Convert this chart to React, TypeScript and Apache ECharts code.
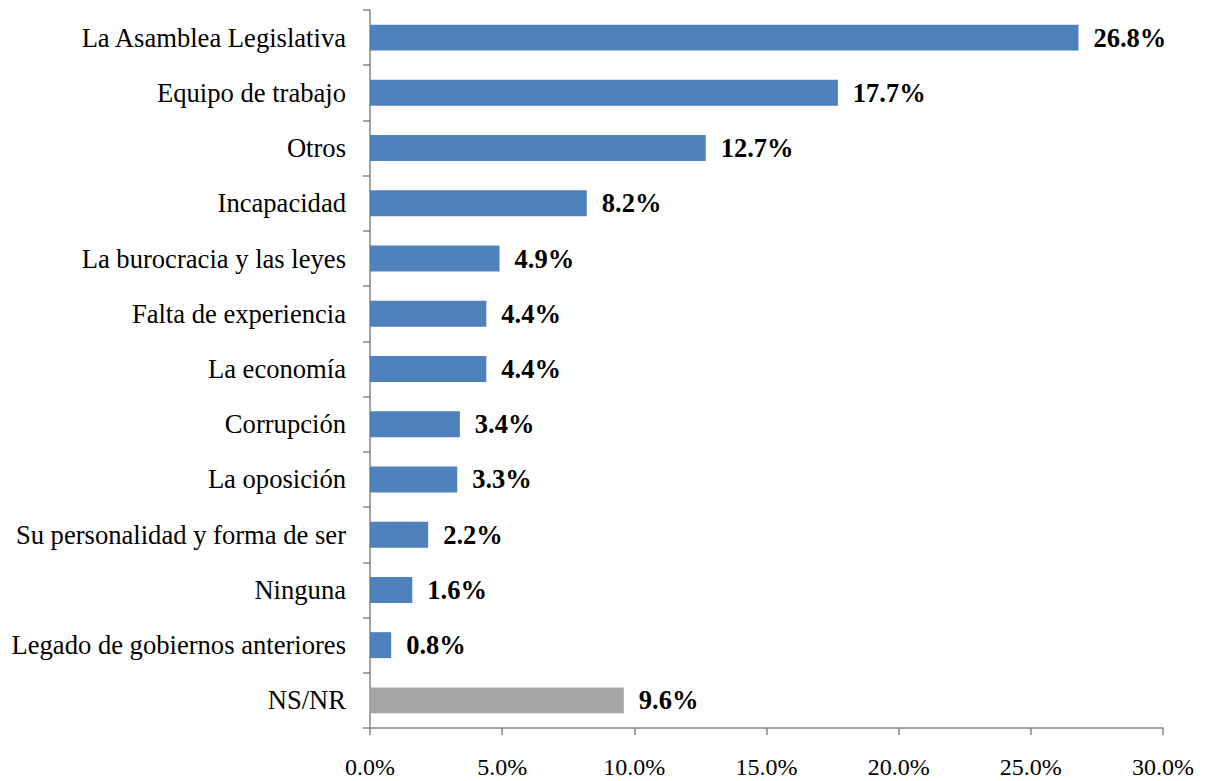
import React, { useEffect, useRef } from "react";
import * as echarts from "echarts";

const categories = [
  "La Asamblea Legislativa",
  "Equipo de trabajo",
  "Otros",
  "Incapacidad",
  "La burocracia y las leyes",
  "Falta de experiencia",
  "La economía",
  "Corrupción",
  "La oposición",
  "Su personalidad y forma de ser",
  "Ninguna",
  "Legado de gobiernos anteriores",
  "NS/NR",
];
const values = [26.8, 17.7, 12.7, 8.2, 4.9, 4.4, 4.4, 3.4, 3.3, 2.2, 1.6, 0.8, 9.6];
const grayCategory = "NS/NR";

export default function App() {
  const ref = useRef<HTMLDivElement>(null);
  useEffect(() => {
    if (!ref.current) return;
    const chart = echarts.init(ref.current, null, { renderer: "svg" });
    const font = "'Liberation Serif', 'Times New Roman', serif";
    chart.setOption({
      animation: false,
      grid: { left: 362, top: 2, right: 32, bottom: 53, containLabel: false },
      xAxis: {
        type: "value",
        min: 0,
        max: 30,
        interval: 5,
        axisLine: { show: true, lineStyle: { color: "#868686", width: 1.5 } },
        axisTick: { show: true, length: 7, lineStyle: { color: "#868686", width: 1.5 } },
        splitLine: { show: false },
        axisLabel: {
          formatter: (v: number) => v.toFixed(1) + "%",
          fontFamily: font,
          fontSize: 24,
          color: "#000",
          margin: 27,
        },
      },
      yAxis: {
        type: "category",
        inverse: true,
        data: categories,
        axisLine: { show: true, lineStyle: { color: "#868686", width: 1.5 } },
        axisTick: { show: true, length: 7, lineStyle: { color: "#868686", width: 1.5 } },
        axisLabel: { fontFamily: font, fontSize: 26.6, color: "#000", margin: 24 },
      },
      series: [
        {
          type: "bar",
          barWidth: "47%",
          data: values.map((v, i) => ({
            value: v,
            itemStyle: { color: categories[i] === grayCategory ? "#A5A5A5" : "#4F81BD" },
          })),
          label: {
            show: true,
            position: "right",
            distance: 15,
            formatter: (p: any) => p.value.toFixed(1) + "%",
            fontFamily: font,
            fontSize: 26.5,
            fontWeight: "bold",
            color: "#000",
          },
        },
      ],
    });
    return () => chart.dispose();
  }, []);
  return <div ref={ref} style={{ width: 1189, height: 773 }} />;
}
